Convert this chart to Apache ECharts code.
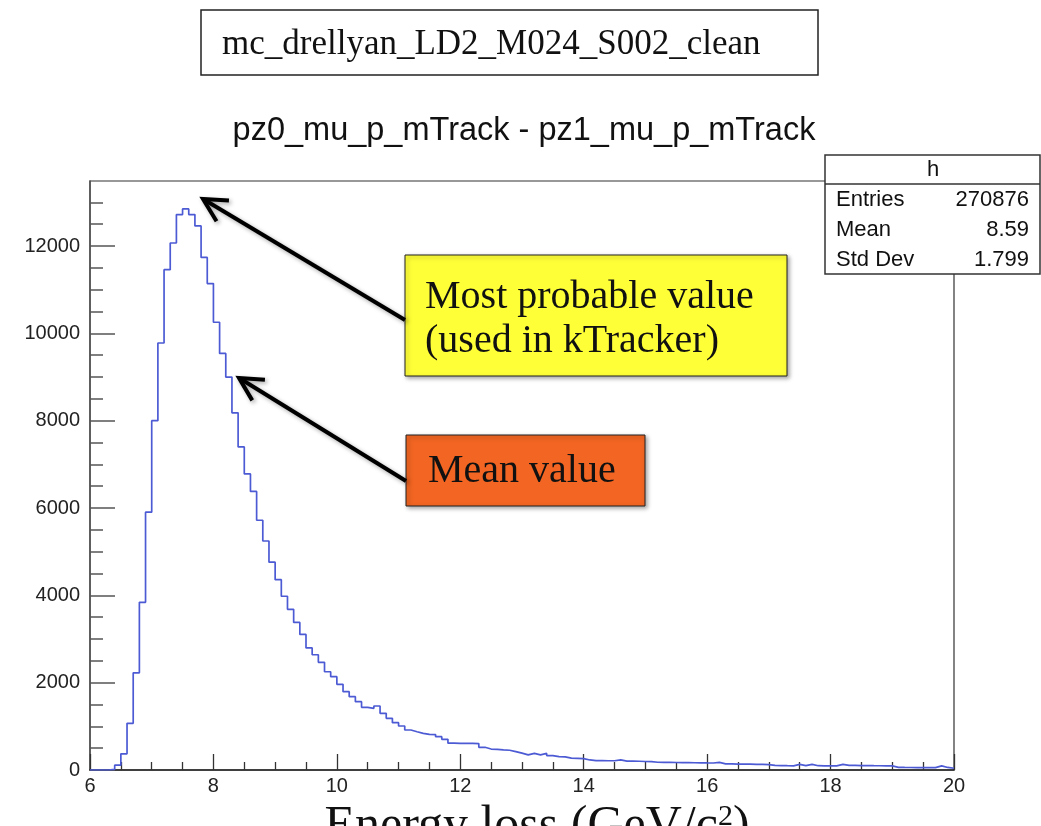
<!DOCTYPE html>
<html><head><meta charset="utf-8">
<script src="https://cdn.jsdelivr.net/npm/echarts@6/dist/echarts.min.js"></script>
<style>html,body{margin:0;padding:0;background:#fff}#c{width:1041px;height:826px}</style>
</head><body><div id="c"></div>
<script>
// ---- data ----
const binLow = 6.0;
const binWidth = 0.1;
const counts = [
  0, 0, 0, 15, 110, 370, 1070, 2225, 3840, 5905,            // 6.0 - 6.9
  8000, 9780, 11460, 12070, 12720, 12850, 12720, 12460, 11740, 11140, // 7.0 - 7.9
  10255, 9540, 9000, 8180, 7400, 6782, 6380, 5720, 5245, 4760,        // 8.0 - 8.9
  4360, 3980, 3680, 3380, 3105, 2795, 2640, 2465, 2250, 2138,         // 9.0 - 9.9
  1962, 1794, 1680, 1565, 1436, 1413, 1466, 1299, 1184, 1084,         // 10.0 - 10.9
  1008, 916, 877, 840, 817, 812, 763, 703, 615, 612,                  // 11.0 - 11.9
  610, 608, 605, 520, 480, 472, 460, 452, 420, 385,                   // 12.0 - 12.9
  345, 380, 345, 380, 330, 305, 300, 272, 268, 262,                   // 13.0 - 13.9
  230, 216, 214, 212, 212, 232, 205, 203, 200, 195,                   // 14.0 - 14.9
  190, 178, 176, 175, 172, 170, 168, 166, 165, 162,                   // 15.0 - 15.9
  160, 175, 140, 138, 136, 135, 133, 130, 128, 122,                   // 16.0 - 16.9
  108, 102, 98, 96, 128, 100, 130, 98, 96, 95,                        // 17.0 - 17.9
  95, 128, 104, 104, 102, 100, 98, 97, 96, 94,                        // 18.0 - 18.9
  60, 58, 57, 56, 55, 54, 54, 95, 58, 40                              // 19.0 - 19.9
];
const xMin = 6, xMax = 20, xStep = 2;
const yMax = 13490;
const yMajorTicks = [0, 2000, 4000, 6000, 8000, 10000, 12000];
const yMinorTicks = [500, 1000, 1500, 2500, 3000, 3500, 4500, 5000, 5500, 6500, 7000, 7500,
                     8500, 9000, 9500, 10500, 11000, 11500, 12500, 13000];
const fileLabel = 'mc_drellyan_LD2_M024_S002_clean';
const histTitle = 'pz0_mu_p_mTrack - pz1_mu_p_mTrack';
const statsName = 'h';
const statsLabels = ['Entries', 'Mean', 'Std Dev'];
const statsValues = ['270876', '8.59', '1.799'];
const noteMPV = ['Most probable value', '(used in kTracker)'];
const noteMean = 'Mean value';

// ---- build step data (bin low edges) ----
const stepData = counts.map((c, i) => [Math.round((binLow + i * binWidth) * 10) / 10, c]);
stepData.push([xMax, counts[counts.length - 1]]);

const chart = echarts.init(document.getElementById('c'), null, {renderer: 'canvas'});

const sans = 'Liberation Sans';
const serif = 'Liberation Serif';
const shadow = {shadowBlur: 4, shadowColor: 'rgba(0,0,0,0.35)', shadowOffsetX: 2, shadowOffsetY: 2};

function arrow(tail, tip, w, head) {
  const dx = tip[0] - tail[0], dy = tip[1] - tail[1];
  const L = Math.hypot(dx, dy);
  const ux = dx / L, uy = dy / L;
  const a = Math.PI / 6.5;
  const ca = Math.cos(a), sa = Math.sin(a);
  const b1 = [tip[0] - head * (ux * ca - uy * sa), tip[1] - head * (uy * ca + ux * sa)];
  const b2 = [tip[0] - head * (ux * ca + uy * sa), tip[1] - head * (uy * ca - ux * sa)];
  return [
    {type: 'polyline', z: 100, shape: {points: [tail, [tip[0] - ux * 2, tip[1] - uy * 2]]},
     style: Object.assign({stroke: '#000', lineWidth: w, fill: null}, shadow)},
    {type: 'polyline', z: 101, shape: {points: [b1, tip, b2]},
     style: Object.assign({stroke: '#000', lineWidth: w, fill: null, lineJoin: 'miter'}, shadow)}
  ];
}

const graphic = [
  // file label box
  {type: 'rect', z: 100, shape: {x: 201, y: 10, width: 617, height: 65},
   style: {fill: '#fff', stroke: '#222', lineWidth: 1.5}},
  {type: 'text', z: 101, x: 222, y: 45,
   style: {text: fileLabel, fontSize: 35, fontFamily: serif, fill: '#111', verticalAlign: 'middle', align: 'left'}},
  // histogram title
  {type: 'text', z: 101, x: 524, y: 131,
   style: {text: histTitle, fontSize: 32.5, fontFamily: sans, fill: '#111', verticalAlign: 'middle', align: 'center'}},
  // stats box
  {type: 'rect', z: 100, shape: {x: 825, y: 155, width: 215, height: 119},
   style: {fill: '#fff', stroke: '#333', lineWidth: 1.5}},
  {type: 'line', z: 101, shape: {x1: 825, y1: 184, x2: 1040, y2: 184},
   style: {stroke: '#333', lineWidth: 1.5}},
  {type: 'text', z: 101, x: 933, y: 170,
   style: {text: statsName, fontSize: 22, fontFamily: sans, fill: '#111', verticalAlign: 'middle', align: 'center'}},
  // yellow note
  {type: 'rect', z: 100, shape: {x: 405, y: 255, width: 382, height: 121},
   style: Object.assign({fill: '#ffff38', stroke: '#222', lineWidth: 1}, shadow)},
  {type: 'text', z: 101, x: 425, y: 297,
   style: {text: noteMPV[0], fontSize: 40, fontFamily: serif, fill: '#111', verticalAlign: 'middle', align: 'left'}},
  {type: 'text', z: 101, x: 425, y: 341,
   style: {text: noteMPV[1], fontSize: 40, fontFamily: serif, fill: '#111', verticalAlign: 'middle', align: 'left'}},
  // orange note
  {type: 'rect', z: 100, shape: {x: 406, y: 435, width: 239, height: 71},
   style: Object.assign({fill: '#f26522', stroke: '#222', lineWidth: 1}, shadow)},
  {type: 'text', z: 101, x: 428, y: 471,
   style: {text: noteMean, fontSize: 40, fontFamily: serif, fill: '#111', verticalAlign: 'middle', align: 'left'}},
  // x axis title (cut off by the page bottom)
  {type: 'text', z: 101, x: 537, y: 827,
   style: {text: '{a|Energy loss (GeV/c}{s|2}{a|)}', align: 'center', verticalAlign: 'middle',
     rich: {a: {fontSize: 50, fontFamily: serif, fill: '#111', lineHeight: 50},
            s: {fontSize: 30, fontFamily: serif, fill: '#111', lineHeight: 50, verticalAlign: 'top', padding: [0, 0, 14, 0]}}}}
];
statsLabels.forEach((lab, i) => {
  graphic.push({type: 'text', z: 101, x: 836, y: 200 + i * 30,
    style: {text: lab, fontSize: 22, fontFamily: sans, fill: '#111', verticalAlign: 'middle', align: 'left'}});
  graphic.push({type: 'text', z: 101, x: 1029, y: 200 + i * 30,
    style: {text: statsValues[i], fontSize: 22, fontFamily: sans, fill: '#111', verticalAlign: 'middle', align: 'right'}});
});
graphic.push(...arrow([405, 320], [203, 199], 4, 26));
graphic.push(...arrow([406, 481], [239, 378], 4, 26));

const yAxisBase = {
  type: 'value', min: 0, max: yMax, position: 'left',
  splitLine: {show: false}
};

chart.setOption({
  animation: false,
  backgroundColor: '#fff',
  grid: {left: 90, right: 87, top: 181, bottom: 56, show: true, borderColor: '#333', borderWidth: 1.2,
         backgroundColor: 'transparent'},
  xAxis: {
    type: 'value', min: xMin, max: xMax, interval: xStep,
    axisLine: {show: true, onZero: false, lineStyle: {color: '#222', width: 1.6}},
    axisTick: {show: true, inside: true, length: 16, lineStyle: {color: '#333', width: 1.3}},
    minorTick: {show: true, splitNumber: 4, length: 8, lineStyle: {color: '#333', width: 1.3}},
    axisLabel: {color: '#222', fontSize: 20, fontFamily: sans, margin: 6, formatter: v => String(v)},
    splitLine: {show: false}, minorSplitLine: {show: false}
  },
  yAxis: [
    Object.assign({}, yAxisBase, {
      axisLine: {show: true, onZero: false, lineStyle: {color: '#555', width: 1.6}},
      axisTick: {show: true, inside: true, length: 25, customValues: yMajorTicks, lineStyle: {color: '#555', width: 1.5}},
      axisLabel: {show: true, customValues: yMajorTicks, color: '#222', fontSize: 20, fontFamily: sans, margin: 10,
                  formatter: v => String(v)}
    }),
    Object.assign({}, yAxisBase, {
      axisLine: {show: false},
      axisTick: {show: true, inside: true, length: 13, customValues: yMinorTicks, lineStyle: {color: '#555', width: 1.5}},
      axisLabel: {show: false}
    })
  ],
  series: [{
    type: 'line', step: 'end', data: stepData, yAxisIndex: 0,
    symbol: 'none', showSymbol: false, clip: true,
    lineStyle: {color: '#4c5bd4', width: 1.7}
  }],
  graphic: graphic
});
</script>
</body></html>
